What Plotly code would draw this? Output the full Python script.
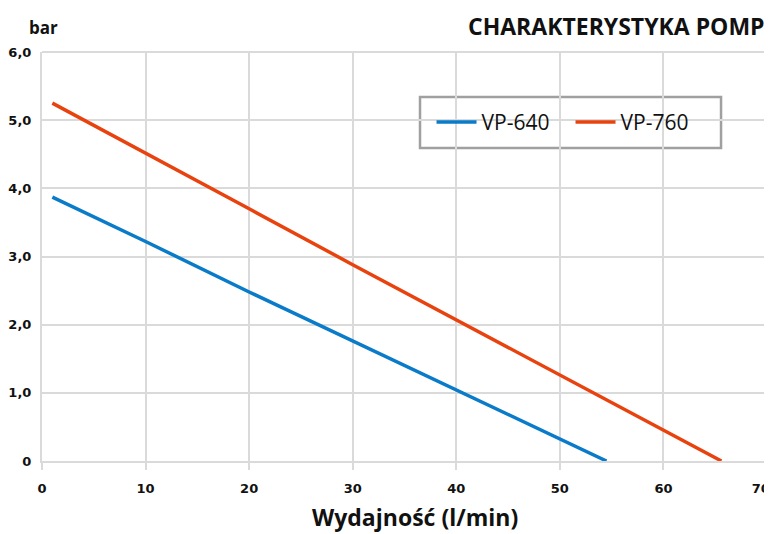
import plotly.graph_objects as go

flow_640 = [1, 10, 20, 30, 40, 50, 54.5]
bar_640 = [3.87, 3.22, 2.48, 1.76, 1.04, 0.32, 0.0]
flow_760 = [1, 10, 20, 30, 40, 50, 60, 65.6]
bar_760 = [5.25, 4.52, 3.70, 2.88, 2.07, 1.26, 0.45, 0.0]

x_ticks = [0, 10, 20, 30, 40, 50, 60, 70]
x_labels = ["<b>0</b>", "<b>10</b>", "<b>20</b>", "<b>30</b>", "<b>40</b>", "<b>50</b>", "<b>60</b>",
            "<b>70</b>\u00a0\u00a0\u00a0"]
y_ticks = [0, 1, 2, 3, 4, 5, 6]
y_labels = ["<b>0</b>", "<b>1,0</b>", "<b>2,0</b>", "<b>3,0</b>", "<b>4,0</b>", "<b>5,0</b>", "<b>6,0</b>"]

fig = go.Figure()
fig.add_trace(go.Scatter(x=flow_640, y=bar_640, mode="lines", name="VP-640",
                         line=dict(color="#0A7BC8", width=3.5)))
fig.add_trace(go.Scatter(x=flow_760, y=bar_760, mode="lines", name="VP-760",
                         line=dict(color="#E8430F", width=3.5)))

tickfont = dict(family="DejaVu Sans", size=13, color="#111111")
# page has an 8px body margin, so the figure is 764x526 placed at (8,8)
fig.update_layout(
    width=764, height=526,
    margin=dict(l=34, r=5, t=44, b=73, autoexpand=False),
    paper_bgcolor="white", plot_bgcolor="white",
    showlegend=True,
    legend=dict(orientation="h", x=0.729, y=0.8277, xanchor="center", yanchor="middle",
                borderwidth=0, bgcolor="rgba(0,0,0,0)",
                font=dict(family="Open Sans", size=21, color="#111111"),
                itemwidth=40, entrywidth=84, tracegroupgap=0),
    xaxis=dict(range=[0, 70], tickvals=x_ticks, ticktext=x_labels, showgrid=True, gridcolor="#dadada",
               gridwidth=2, zeroline=False, showline=True, linecolor="#dadada", linewidth=2,
               ticks="outside", ticklen=7, tickcolor="#dadada", tickwidth=2,
               tickfont=tickfont, mirror=False, automargin=False, ticklabelstandoff=7,
               ticklabeloverflow="allow"),
    yaxis=dict(range=[0, 6], tickvals=y_ticks, ticktext=y_labels, showgrid=True,
               gridcolor="#dadada", gridwidth=2, zeroline=False, showline=True, automargin=False,
               linecolor="#dadada", linewidth=2, tickfont=tickfont, ticks="", ticklabelstandoff=6,
               ticklabeloverflow="allow"),
    annotations=[
        dict(text="<b>bar</b>", xref="paper", yref="paper", x=-0.0207, y=1.061,
             xanchor="left", yanchor="middle", showarrow=False,
             font=dict(family="Open Sans", size=17, color="#111111")),
        dict(text="<b>CHARAKTERYSTYKA POMP</b>", xref="paper", yref="paper", x=1.0, y=1.1076,
             xanchor="right", yanchor="top", showarrow=False,
             font=dict(family="Open Sans", size=23, color="#111111")),
        dict(text="<b>Wydajność (l/min)</b>", xref="paper", yref="paper", x=0.5145, y=-0.137,
             xanchor="center", yanchor="middle", showarrow=False,
             font=dict(family="Open Sans", size=23, color="#111111")),
    ],
)
fig.add_shape(type="line", xref="paper", yref="paper", x0=1, x1=1, y0=0, y1=1,
              line=dict(color="#dadada", width=2))
fig.add_shape(type="line", xref="paper", yref="paper", x0=0, x1=1, y0=1, y1=1,
              line=dict(color="#dadada", width=2))
fig.add_shape(type="rect", xref="paper", yref="paper", x0=0.5214, x1=0.9366, y0=0.7653, y1=0.8900,
              line=dict(color="#a0a0a0", width=2.5), fillcolor="white", layer="below")

fig.write_html("out.html")
